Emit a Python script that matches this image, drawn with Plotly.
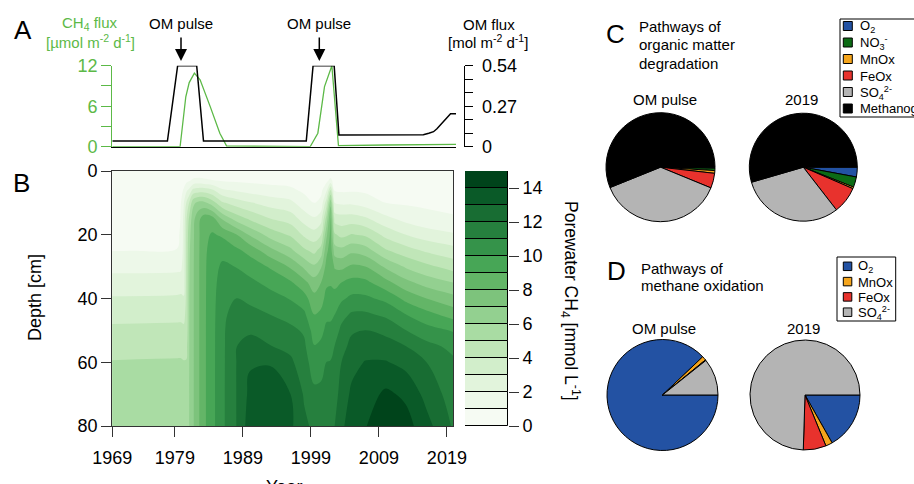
import plotly.graph_objects as go

W, H = 914, 484
def px(x): return x / W
def py(y): return 1 - y / H

FONT = "Liberation Sans, Arial, Helvetica, sans-serif"
GREEN = "#5cb947"
NB = '\u00a0'

# ---------------- Panel A data ----------------
om_years = [1969.8, 1977.9, 1979.4, 1982.2, 1983.2, 1998.3, 1999.3, 2002.4, 2003.1,
            2015.5, 2016.3, 2017.0, 2017.5, 2018.5, 2019.5, 2020.3]
om_flux = [0.038, 0.038, 0.54, 0.54, 0.038, 0.038, 0.54, 0.54, 0.078,
           0.08, 0.09, 0.10, 0.12, 0.17, 0.22, 0.22]

ch4_years = [1969.8, 1979.76, 1980.6, 1981.1, 1981.86, 1982.7, 1984.2, 1985.6, 1986.6,
             1998.87, 2000.0, 2000.98, 2002.06, 2003.03, 2010.0, 2020.3]
ch4_flux = [0.0, 0.0, 7.4, 9.5, 10.9, 9.9, 5.9, 2.0, 0.1,
            0.0, 2.0, 8.9, 12.0, 0.15, 0.25, 0.35]

# ---------------- Panel B data ----------------
years = [1969.5, 1979.3, 1979.9, 1980.3, 1980.7, 1981.1, 1981.7, 1982.5, 1983.3, 1984.5,
         1986.0, 1988.0, 1990.0, 1993.0, 1996.0, 1998.0, 1999.5, 2000.5, 2001.3, 2001.9,
         2002.5, 2003.5, 2005.0, 2007.0, 2010.0, 2013.0, 2016.0, 2020.0]
depths = [0, 3, 6, 10, 15, 20, 25, 30, 35, 40, 45, 50, 55, 60, 70, 80]
# porewater CH4 profile (mmol/L) for each year column, top to bottom
profiles = [
    [0.2, 0.3, 0.39, 0.52, 0.68, 0.83, 0.99, 1.71, 2.42, 3.1, 3.69, 4.21, 4.66, 5.05, 5.42, 5.8],
    [0.22, 0.32, 0.41, 0.55, 0.71, 0.86, 1.02, 1.75, 2.47, 3.15, 3.74, 4.26, 4.7, 5.1, 5.46, 5.82],
    [0.2, 0.4, 0.7, 1.0, 1.05, 1.1, 1.2, 1.8, 2.5, 3.2, 3.75, 4.26, 4.7, 5.1, 5.46, 5.82],
    [0.25, 0.55, 1.1, 1.9, 2.3, 2.4, 2.45, 2.48, 2.5, 3.1, 3.7, 4.2, 4.66, 5.05, 5.45, 5.85],
    [0.25, 0.75, 1.8, 3.1, 3.9, 4.15, 4.22, 4.26, 4.28, 4.3, 4.3, 4.35, 4.7, 5.07, 5.48, 5.9],
    [0.25, 0.9, 2.2, 4.0, 5.15, 5.6, 5.8, 5.88, 5.92, 5.95, 5.96, 5.97, 5.97, 5.98, 5.99, 6.0],
    [0.25, 1.2, 3.3, 5.75, 6.7, 6.85, 6.88, 6.9, 6.9, 6.9, 6.9, 6.9, 6.9, 6.9, 6.9, 6.9],
    [0.25, 1.3, 3.5, 6.3, 7.75, 7.85, 7.88, 7.9, 7.9, 7.9, 7.9, 7.9, 7.9, 7.9, 7.9, 7.9],
    [0.25, 1.2, 3.5, 6.25, 8.6, 8.75, 8.78, 8.8, 8.8, 8.8, 8.8, 8.8, 8.8, 8.8, 8.8, 8.8],
    [0.25, 1.05, 3.15, 5.5, 8.45, 9.1, 9.4, 9.55, 9.6, 9.65, 9.68, 9.7, 9.7, 9.7, 9.7, 9.7],
    [0.25, 0.91, 2.15, 4.14, 6.86, 8.86, 9.63, 10.2, 10.5, 10.65, 10.72, 10.76, 10.78, 10.79, 10.8, 10.8],
    [0.25, 0.84, 1.85, 3.52, 5.61, 8.08, 9.25, 9.97, 10.49, 11.0, 11.5, 11.95, 11.97, 11.98, 11.98, 11.97],
    [0.25, 0.79, 1.62, 3.1, 4.86, 6.91, 8.69, 9.58, 10.24, 10.78, 11.32, 11.85, 12.38, 12.9, 13.24, 13.5],
    [0.25, 0.72, 1.36, 2.59, 4.03, 5.59, 7.36, 8.89, 9.71, 10.38, 10.99, 11.51, 12.04, 12.96, 13.3, 13.6],
    [0.25, 0.67, 1.19, 2.27, 3.56, 4.86, 6.26, 7.87, 9.14, 9.94, 10.63, 11.23, 11.74, 12.19, 13.0, 13.2],
    [0.25, 0.53, 0.81, 1.42, 2.59, 3.83, 5.22, 6.81, 8.32, 9.42, 10.2, 10.87, 11.19, 11.43, 11.9, 12.2],
    [0.25, 0.48, 0.7, 1.0, 2.13, 3.41, 4.73, 6.17, 7.43, 8.32, 9.0, 9.53, 10.04, 10.48, 11.23, 11.8],
    [0.25, 0.5, 0.75, 1.3, 2.64, 4.0, 5.44, 6.89, 8.0, 8.63, 9.21, 9.74, 10.22, 10.66, 11.23, 11.6],
    [0.25, 0.77, 1.81, 3.58, 5.42, 6.76, 7.77, 8.36, 8.84, 9.31, 9.79, 10.22, 10.62, 11.01, 11.3, 11.6],
    [0.3, 1.27, 4.07, 6.67, 8.08, 8.29, 8.5, 8.71, 8.92, 9.3, 9.8, 10.25, 10.67, 11.05, 11.35, 11.7],
    [0.25, 0.58, 0.9, 2.0, 3.58, 5.14, 6.51, 7.89, 8.73, 9.39, 9.99, 10.52, 11.02, 11.22, 11.6, 12.0],
    [0.25, 0.55, 0.85, 1.83, 3.43, 4.71, 6.33, 7.75, 9.0, 9.83, 10.67, 11.23, 11.62, 12.0, 12.4, 12.8],
    [0.25, 0.56, 0.87, 1.84, 3.47, 5.07, 6.77, 8.17, 9.34, 10.23, 11.14, 11.86, 12.31, 12.69, 13.19, 13.5],
    [0.25, 0.53, 0.81, 1.57, 3.17, 4.83, 6.5, 8.0, 9.27, 10.2, 11.17, 12.0, 12.56, 13.05, 13.5, 13.95],
    [0.25, 0.48, 0.7, 1.0, 2.29, 3.71, 5.14, 6.83, 8.33, 9.75, 10.8, 11.73, 12.44, 13.07, 14.2, 14.6],
    [0.25, 0.44, 0.63, 0.88, 1.67, 3.0, 4.43, 5.86, 7.29, 8.71, 10.0, 11.0, 12.0, 12.67, 13.79, 14.4],
    [0.25, 0.42, 0.58, 0.81, 1.33, 2.5, 3.86, 5.25, 6.57, 8.0, 9.33, 10.4, 11.29, 12.0, 12.67, 13.35],
    [0.2, 0.36, 0.52, 0.74, 1.1, 2.13, 3.38, 4.57, 6.0, 7.33, 8.57, 9.9, 10.75, 11.15, 11.5, 11.85],
]
z = [list(row) for row in zip(*profiles)]  # rows = depths, columns = years

levels_lo = list(range(15))
cb_ticks = [0, 2, 4, 6, 8, 10, 12, 14]
palette = ['#f6fbf3', '#edf8e9', '#e2f4dc', '#d2eecb', '#c0e6b8', '#a9dca3', '#93d090',
           '#7dc37c', '#63b567', '#47a656', '#35934a', '#26803e', '#186d33', '#0a5a28', '#00441b']
cscale = [[i / 14, c] for i, c in enumerate(palette)]

year_ticks = [1969.8, 1979, 1989, 1999, 2009, 2019]
year_ticktext = ['1969', '1979', '1989', '1999', '2009', '2019']

# ---------------- Panels C and D data ----------------
om_labels = ['O<sub>2</sub>', 'NO<sub>3</sub><sup>-</sup>', 'MnOx', 'FeOx',
             'SO<sub>4</sub><sup>2-</sup>', 'Methanogenesis']
om_colors = ['#2352a3', '#0c6b15', '#f5a51c', '#e8322d', '#b4b4b4', '#000000']
om_pulse_vals = [0.3, 0.7, 0.8, 4.4, 37.7, 56.1]
om_2019_vals = [2.9, 3.1, 0.5, 8.0, 31.0, 54.5]

mo_labels = ['O<sub>2</sub>', 'MnOx', 'FeOx', 'SO<sub>4</sub><sup>2-</sup>']
mo_colors = ['#2352a3', '#f5a51c', '#e8322d', '#b4b4b4']
mo_pulse_vals = [87.9, 1.2, 0.2, 10.7]
mo_2019_vals = [16.8, 2.0, 6.7, 74.5]

fig = go.Figure()

# Panel A
fig.add_trace(go.Scatter(x=ch4_years, y=ch4_flux, xaxis='x', yaxis='y', mode='lines',
                         line=dict(color=GREEN, width=1.3), showlegend=False, hoverinfo='skip'))
fig.add_trace(go.Scatter(x=om_years, y=om_flux, xaxis='x', yaxis='y2', mode='lines',
                         line=dict(color='black', width=1.5), showlegend=False, hoverinfo='skip'))

# Panel B
fig.add_trace(go.Contour(x=years, y=depths, z=z, xaxis='x2', yaxis='y3',
                         contours=dict(start=1, end=14, size=1, coloring='fill', showlines=False),
                         line=dict(width=0, smoothing=1.0), colorscale=cscale,
                         showscale=False, hoverinfo='skip'))
fig.add_trace(go.Bar(x=[0] * 15, y=[1] * 15, base=levels_lo, width=1, xaxis='x3', yaxis='y4',
                     marker=dict(color=palette, line=dict(color='black', width=1)),
                     showlegend=False, hoverinfo='skip'))

pie_common = dict(textinfo='none', hoverinfo='skip', sort=False, direction='clockwise',
                  rotation=90, showlegend=False)
fig.add_trace(go.Pie(labels=om_labels, values=om_pulse_vals,
                     marker=dict(colors=om_colors, line=dict(color='black', width=1)),
                     domain=dict(x=[px(606), px(715)], y=[py(221.7), py(112.7)]), **pie_common))
fig.add_trace(go.Pie(labels=om_labels, values=om_2019_vals,
                     marker=dict(colors=om_colors, line=dict(color='black', width=1)),
                     domain=dict(x=[px(749.3), px(857.3)], y=[py(221.2), py(113.2)]), **pie_common))
fig.add_trace(go.Pie(labels=mo_labels, values=mo_pulse_vals,
                     marker=dict(colors=mo_colors, line=dict(color='black', width=1)),
                     domain=dict(x=[px(607), px(718)], y=[py(450.5), py(339.5)]), **pie_common))
fig.add_trace(go.Pie(labels=mo_labels, values=mo_2019_vals,
                     marker=dict(colors=mo_colors, line=dict(color='black', width=1)),
                     domain=dict(x=[px(750), px(860)], y=[py(450), py(340)]), **pie_common))

ax_common = dict(showgrid=False, zeroline=False, fixedrange=True)
tickfont = dict(family=FONT, size=18, color='black')

fig.update_layout(
    width=W, height=H, margin=dict(l=0, r=0, t=0, b=0, autoexpand=False),
    paper_bgcolor='white', plot_bgcolor='white', font=dict(family=FONT, color='black'),
    showlegend=False,
    xaxis=dict(domain=[px(112.3), px(456)], range=[1969.8, 2020.3], showticklabels=False,
               ticks='', showline=True, linecolor='black', linewidth=1.2, anchor='y', **ax_common),
    yaxis=dict(domain=[py(146.7), py(65.7)], range=[0, 12], tickvals=[0, 3, 6, 9, 12],
               ticktext=['0', '', '6', '', '12'], ticks='outside', ticklen=10, tickwidth=1.3,
               tickcolor=GREEN, showline=True, linecolor=GREEN, linewidth=1.3,
               tickfont=dict(family=FONT, size=18, color=GREEN), anchor='x', **ax_common),
    yaxis2=dict(overlaying='y', side='right', anchor='free', position=px(464.3),
                range=[0, 0.54], tickvals=[0, 0.09, 0.18, 0.27, 0.36, 0.45, 0.54],
                ticktext=[NB + '0', '', '', NB + '0.27', '', '', NB + '0.54'], ticks='outside',
                ticklen=8, tickwidth=1.2, tickcolor='black', showline=True, linecolor='black',
                linewidth=1.2, tickfont=tickfont, **ax_common),
    xaxis2=dict(domain=[px(112.3), px(453)], range=[1969.8, 2019.9], tickvals=year_ticks,
                ticktext=year_ticktext, ticks='outside', ticklen=10, tickwidth=1.2,
                tickcolor='#333', showline=True, mirror=True, linecolor='#333', linewidth=1.2,
                ticklabelstandoff=5, tickfont=tickfont, anchor='y3', **ax_common),
    yaxis3=dict(domain=[py(426), py(171)], range=[80, 0], tickvals=[0, 20, 40, 60, 80],
                ticks='outside', ticklen=10, tickwidth=1.2, tickcolor='#333', showline=True,
                mirror=True, linecolor='#333', linewidth=1.2, tickfont=tickfont, anchor='x2',
                **ax_common),
    xaxis3=dict(domain=[px(465), px(508)], range=[-0.5, 0.5], showticklabels=False, ticks='',
                showline=False, anchor='y4', **ax_common),
    yaxis4=dict(domain=[py(426), py(171)], range=[0, 15], side='right', tickvals=cb_ticks,
                ticks='outside', ticklen=10, tickwidth=1.2, tickcolor='#333', showline=False,
                tickfont=tickfont, anchor='x3', **ax_common),
    bargap=0,
)

def ann(x, y, text, size=15, color='black', xanchor='center', yanchor='middle', angle=0):
    return dict(x=px(x), y=py(y), xref='paper', yref='paper', text=text, showarrow=False,
                font=dict(family=FONT, size=size, color=color), xanchor=xanchor,
                yanchor=yanchor, textangle=angle)

annotations = [
    ann(22.5, 29.5, 'A', 26), ann(21, 183, 'B', 26), ann(615, 34.5, 'C', 26), ann(616, 271, 'D', 26),
    ann(90, 23, 'CH<sub>4</sub> flux', 15, GREEN),
    ann(90, 41, '[µmol m<sup>-2</sup> d<sup>-1</sup>]', 15, GREEN),
    ann(181, 23, 'OM pulse', 15), ann(319.3, 23, 'OM pulse', 15),
    ann(488.5, 24, 'OM flux', 15), ann(488, 41, '[mol m<sup>-2</sup> d<sup>-1</sup>]', 15),
    ann(35, 298, 'Depth [cm]', 18, angle=-90),
    ann(283.5, 475, 'Year', 18, yanchor='top'),
    ann(571, 301, 'Porewater CH<sub>4</sub> [mmol L<sup>-1</sup>]', 17.5, angle=90),
    ann(637, 26.7, 'Pathways of', 15, xanchor='left'),
    ann(637, 45, 'organic matter', 15, xanchor='left'),
    ann(637, 63, 'degradation', 15, xanchor='left'),
    ann(665, 100, 'OM pulse', 15), ann(801, 100, '2019', 15),
    ann(639, 268, 'Pathways of', 15, xanchor='left'),
    ann(639, 285.5, 'methane oxidation', 15, xanchor='left'),
    ann(664, 328, 'OM pulse', 15), ann(803.5, 328, '2019', 15),
]
for xa in (181, 319.3):
    annotations.append(dict(x=px(xa), y=py(61), xref='paper', yref='paper', text='',
                            showarrow=True, ax=0, ay=-25, arrowhead=2, arrowsize=1.6,
                            arrowwidth=1.5, arrowcolor='black'))

# Legend boxes for panels C and D (built from the label / colour lists)
shapes = []
def add_legend(labels, colors, box, first_row, row_step, sq_x, sq_size, text_x):
    shapes.append(dict(type='rect', xref='paper', yref='paper', x0=px(box[0]), x1=px(box[1]),
                       y0=py(box[3]), y1=py(box[2]), line=dict(color='black', width=1),
                       fillcolor='white', layer='above'))
    for i, (lab, col) in enumerate(zip(labels, colors)):
        cy = first_row + row_step * i
        shapes.append(dict(type='rect', xref='paper', yref='paper', x0=px(sq_x),
                           x1=px(sq_x + sq_size), y0=py(cy + sq_size / 2), y1=py(cy - sq_size / 2),
                           line=dict(color='black', width=1), fillcolor=col, layer='above'))
        annotations.append(ann(text_x, cy + 0.5, lab, 13, xanchor='left'))

add_legend(om_labels, om_colors, (840, 935, 19, 117), 26, 16.5, 843.3, 9, 857.5)
add_legend(mo_labels, mo_colors, (837, 895.7, 257, 321), 266.3, 15.3, 843.3, 8.5, 855.5)

fig.update_layout(annotations=annotations, shapes=shapes)

fig.write_html("out.html")
